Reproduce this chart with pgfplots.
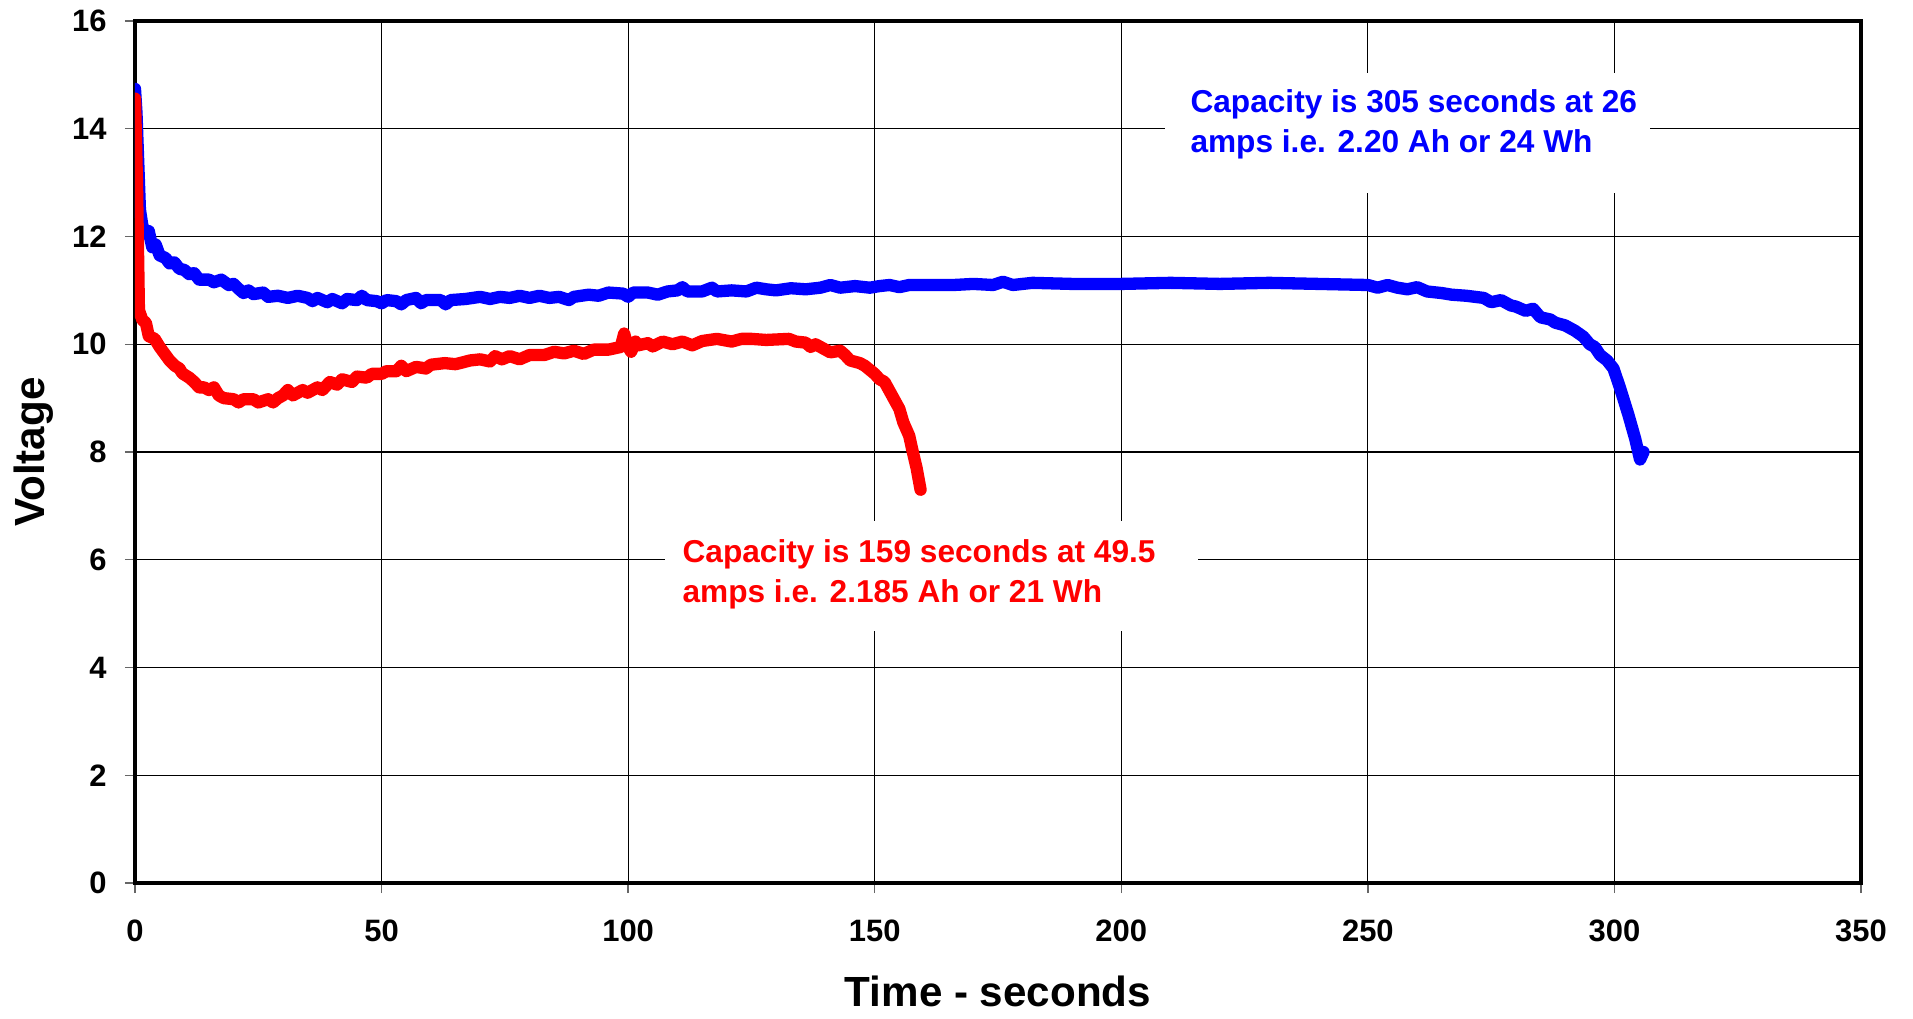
\documentclass[border=0pt]{standalone}
\usepackage{fontspec}
\setmainfont{Liberation Sans}
\usepackage{pgfplots}
\pgfplotsset{compat=1.18}
\definecolor{cblue}{RGB}{0,0,255}
\definecolor{cred}{RGB}{255,0,0}
\begin{document}
\begin{tikzpicture}
\begin{axis}[
  scale only axis,
  width=172.6mm, height=86.2mm,
  xmin=0, xmax=350, ymin=0, ymax=16,
  xtick={0,50,...,350}, ytick={0,2,...,16},
  /pgf/number format/assume math mode=true,
  ticklabel style={font=\fontsize{8.8}{10}\selectfont\bfseries},
  xticklabel style={yshift=-1.4mm},
  yticklabel style={xshift=-0.6mm},
  tick align=outside,
  tick pos=left,
  major tick length=1mm,
  every tick/.style={black!60, line width=0.4pt},
  grid=major,
  major grid style={black, line width=0.35pt},
  axis line style={line width=1.2pt},
  xlabel={Time - seconds},
  ylabel={Voltage},
  label style={font=\fontsize{12}{14}\selectfont\bfseries},
  xlabel style={at={(axis description cs:0.5,-0.1253)}, anchor=center},
  ylabel style={at={(axis description cs:-0.0585,0.5)}, anchor=center},
]
\addplot[cblue, line width=3.5pt, line join=round, line cap=round] coordinates {
(0,14.74)(0.3,14.3)(1.0,12.5)(1.5,12.2)(2.2,12.05)(2.8,12.1)(3.5,11.8)(4.2,11.85)
(5,11.65)(6.2,11.6)(7,11.5)(8,11.52)(9,11.4)(10,11.38)(11,11.3)(12,11.32)(13,11.2)
(15,11.2)(16,11.15)(17.5,11.2)(19,11.1)(20,11.12)(21,11.03)(22,10.95)(23,11.0)
(24,10.93)(26,10.96)(27,10.88)(29,10.9)(31,10.86)(33,10.9)(35,10.86)(36,10.8)
(37,10.86)(39,10.78)(40,10.84)(42,10.76)(43,10.84)(45,10.82)(46,10.9)(47,10.82)
(49,10.8)(50,10.76)(51,10.82)(53,10.8)(54,10.74)(55,10.82)(57,10.86)(58,10.76)
(59,10.82)(62,10.82)(63,10.74)(64,10.82)(67,10.84)(70,10.88)(72,10.84)(74,10.88)
(76,10.86)(78,10.9)(80,10.86)(82,10.9)(84,10.86)(86,10.88)(88,10.82)(89,10.88)
(92,10.92)(94,10.9)(96,10.96)(99,10.94)(100,10.88)(101,10.96)(104,10.96)(106,10.92)
(108,10.98)(110,11.0)(111,11.06)(112,10.98)(115,10.98)(117,11.05)(118,10.98)
(121,11.0)(124,10.98)(126,11.05)(128,11.02)(130,11.0)(133,11.04)(136,11.02)
(139,11.05)(141,11.1)(143,11.05)(146,11.08)(149,11.05)(151,11.08)(153,11.1)
(155,11.06)(157,11.1)(160,11.1)(166,11.1)(170,11.12)(174,11.1)(176,11.16)(178,11.1)
(182,11.14)(190,11.12)(200,11.12)(210,11.14)(220,11.12)(230,11.14)(240,11.12)
(250,11.1)(252,11.05)(254,11.1)(256,11.05)(258,11.02)(260,11.06)(262,10.98)
(265,10.95)(267,10.92)(270,10.9)(273.5,10.86)(275,10.78)(277,10.82)(279,10.72)
(280,10.7)(282,10.62)(283.5,10.66)(285,10.5)(287,10.46)(288,10.4)(290,10.35)
(292,10.25)(293.7,10.14)(295,10.0)(296,9.95)(297.1,9.8)(298.5,9.7)(299.8,9.55)
(301.1,9.2)(302.8,8.7)(304.2,8.25)(305.2,7.86)(305.9,8.0)
};
\addplot[cred, line width=3.5pt, line join=round, line cap=round] coordinates {
(0,14.56)(0.4,13.0)(0.8,10.63)(1.5,10.45)(2.2,10.4)(2.8,10.15)(4,10.1)(5,9.95)
(6.2,9.8)(7,9.7)(8.1,9.6)(9,9.55)(9.6,9.46)(11,9.38)(12,9.3)(13,9.2)(14,9.2)
(15,9.15)(16,9.2)(17,9.05)(18,9.0)(20,8.98)(21,8.92)(22,8.98)(24,8.98)(25,8.92)
(27,8.98)(28,8.92)(29,9.0)(30,9.05)(31,9.15)(32,9.05)(34,9.15)(35,9.1)(37,9.2)
(38,9.15)(39.5,9.3)(41,9.25)(42,9.35)(44,9.3)(45,9.4)(47,9.38)(48,9.45)(50,9.45)
(51,9.5)(53,9.5)(54,9.6)(55,9.5)(57,9.58)(59,9.55)(60,9.62)(62.8,9.65)(65,9.63)
(68,9.7)(70,9.72)(72,9.68)(73,9.78)(74.4,9.72)(76,9.78)(78,9.72)(80,9.8)(83,9.8)
(85,9.86)(87,9.83)(89,9.88)(91,9.82)(93,9.9)(96,9.9)(98.5,9.95)(99.2,10.2)
(99.8,9.98)(100.6,9.86)(101.5,10.05)(102,9.98)(104,10.02)(105,9.96)(107,10.05)
(109,10.0)(111,10.05)(113,9.98)(115,10.06)(118,10.1)(121,10.05)(123,10.1)
(125,10.1)(128,10.08)(132.6,10.1)(134,10.05)(136,10.03)(137,9.95)(138,10.0)
(140,9.9)(141,9.85)(143,9.88)(144,9.8)(145,9.7)(147,9.65)(148,9.6)(150,9.45)
(151,9.35)(152,9.3)(153.5,9.05)(155,8.8)(155.8,8.55)(157,8.3)(157.6,8.05)
(158.5,7.7)(159.3,7.3)
};
\fill[white] (axis cs:208.9,12.81) rectangle (axis cs:307.2,15.03);
\fill[white] (axis cs:107.5,4.68) rectangle (axis cs:215.6,6.72);
\node[anchor=north west, inner sep=0pt, align=left, text=cblue,
  font=\fontsize{9}{11.4}\selectfont\bfseries] at (axis cs:213.9,14.74)
  {Capacity is 305 seconds at 26\\amps i.e. 2.20 Ah or 24 Wh};
\node[anchor=north west, inner sep=0pt, align=left, text=cred,
  font=\fontsize{9}{11.4}\selectfont\bfseries] at (axis cs:110.9,6.38)
  {Capacity is 159 seconds at 49.5\\amps i.e. 2.185 Ah or 21 Wh};
\end{axis}
\pgfresetboundingbox
\path ([shift={(-13.5mm,-13.5mm)}]current axis.south west) rectangle ([shift={(5.2mm,2.1mm)}]current axis.north east);
\end{tikzpicture}
\end{document}
